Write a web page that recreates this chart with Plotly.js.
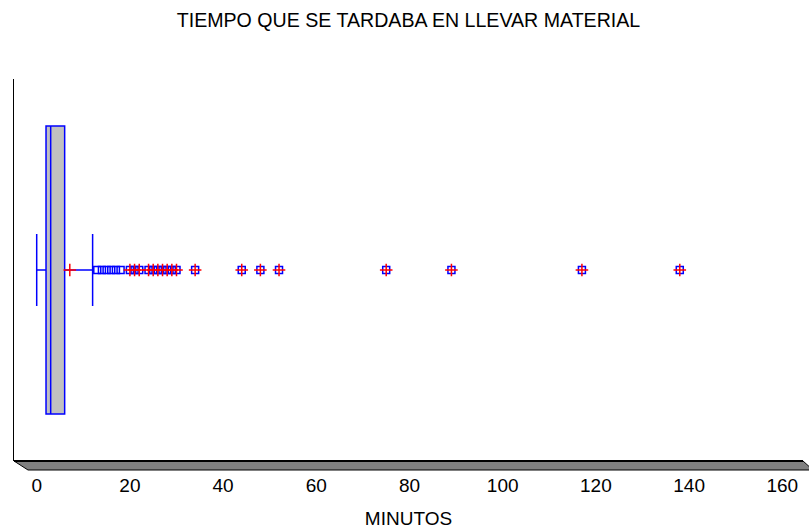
<!DOCTYPE html>
<html>
<head>
<meta charset="utf-8">
<script src="https://cdn.plot.ly/plotly-3.0.1.min.js"></script>
<style>html,body{margin:0;padding:0;background:#fff;}#chart{width:809px;height:529px;}</style>
</head>
<body>
<div id="chart"></div>
<script>
// Summary statistics (MINUTOS)
const boxQ1 = [2];
const boxMedian = [3];
const boxQ3 = [6];
const boxLowerFence = [0];
const boxUpperFence = [12];
const boxMean = [7.1];
// Outliers
const nearOutliers = [13, 14, 15, 16, 17, 18];
const farOutliers = [20, 21, 22, 24, 25, 26, 27, 28, 29, 30, 34, 44, 48, 52, 75, 89, 117, 138];
const tickValues = [0, 20, 40, 60, 80, 100, 120, 140, 160];
const titleText = 'TIEMPO QUE SE TARDABA EN LLEVAR MATERIAL';
const xTitle = 'MINUTOS';

const BLUE = '#0000ff', RED = '#ff0000';
const yAt = arr => arr.map(() => 0);
const FONT = 'Liberation Sans, Arial, sans-serif';

const traces = [
  {
    type: 'box', orientation: 'h', y: [0],
    q1: boxQ1, median: boxMedian, q3: boxQ3,
    lowerfence: boxLowerFence, upperfence: boxUpperFence,
    boxpoints: false, width: 1.508, whiskerwidth: 0.25,
    fillcolor: '#c0c0c0', line: {color: BLUE, width: 1.5},
    hoverinfo: 'skip', showlegend: false
  },
  {
    type: 'scatter', mode: 'markers', x: boxMean, y: yAt(boxMean),
    marker: {symbol: 'cross-thin-open', size: 9, color: RED, line: {color: RED, width: 1.5}},
    showlegend: false, cliponaxis: false
  },
  {
    type: 'scatter', mode: 'markers', x: nearOutliers, y: yAt(nearOutliers),
    marker: {symbol: 'square-open', size: 7, color: BLUE, line: {color: BLUE, width: 1.5}},
    showlegend: false
  },
  {
    type: 'scatter', mode: 'markers', x: farOutliers, y: yAt(farOutliers),
    marker: {symbol: 'square-open', size: 7, color: BLUE, line: {color: BLUE, width: 1.5}},
    showlegend: false
  },
  {
    type: 'scatter', mode: 'markers', x: farOutliers, y: yAt(farOutliers),
    marker: {symbol: 'cross-thin-open', size: 9, color: RED, line: {color: RED, width: 1.5}},
    showlegend: false
  }
];

const layout = {
  width: 809, height: 529,
  margin: {l: 14, r: 6, t: 79, b: 68, pad: 0},
  paper_bgcolor: '#ffffff', plot_bgcolor: '#ffffff',
  font: {family: FONT, color: '#000'},
  title: {
    text: titleText, x: 0.5, xref: 'paper', xanchor: 'center',
    y: 1 - 20 / 529, yref: 'container', yanchor: 'middle',
    font: {family: FONT, size: 19.6, color: '#000'}
  },
  xaxis: {
    range: [(14 - 36.7) / 4.66, (803 - 36.7) / 4.66],
    tickvals: tickValues, ticktext: tickValues.map(String),
    showgrid: false, zeroline: false, showline: false,
    ticks: '', ticklabelstandoff: 11,
    tickfont: {family: FONT, size: 19, color: '#000'},
    title: {text: xTitle, standoff: 20, font: {family: FONT, size: 19, color: '#000'}},
    automargin: false, fixedrange: true
  },
  yaxis: {
    range: [-1, 1], showticklabels: false, showgrid: false, zeroline: false,
    showline: true, linecolor: '#000', linewidth: 1.5, ticks: '', fixedrange: true
  },
  shapes: [
    {
      type: 'path', xref: 'paper', yref: 'paper', layer: 'above',
      path: 'M 0 0 L 1 0 L 1.0127 -0.0236 L 0.01774 -0.0236 Z',
      fillcolor: '#808080', line: {color: '#000', width: 1}
    },
    {
      type: 'line', xref: 'paper', yref: 'paper', layer: 'above',
      x0: 0, x1: 1, y0: 0, y1: 0, line: {color: '#000', width: 2}
    }
  ],
  showlegend: false
};

Plotly.newPlot('chart', traces, layout, {displayModeBar: false, staticPlot: true});
</script>
</body>
</html>
